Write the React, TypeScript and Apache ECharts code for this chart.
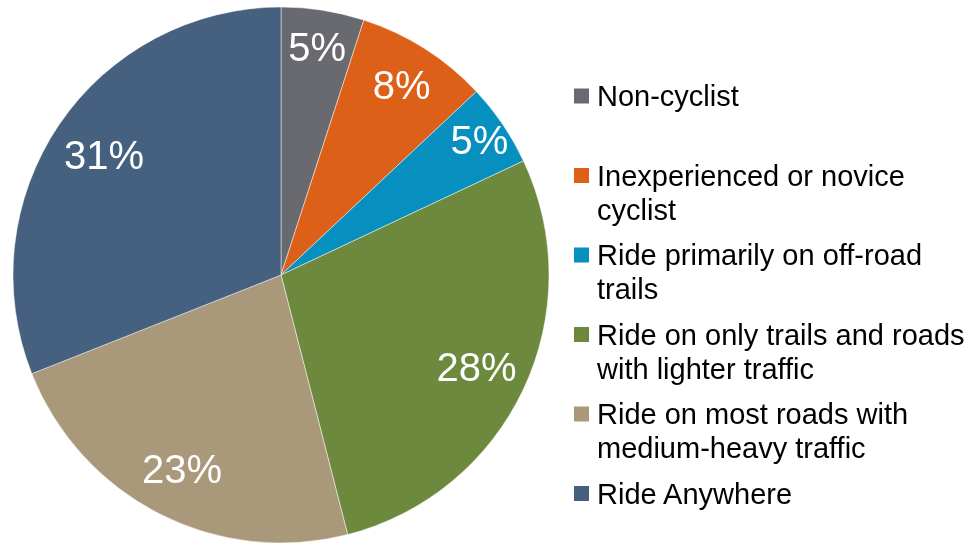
import React, { useEffect, useRef } from "react";
import * as echarts from "echarts";

const categories = [
  "Non-cyclist",
  "Inexperienced or novice cyclist",
  "Ride primarily on off-road trails",
  "Ride on only trails and roads with lighter traffic",
  "Ride on most roads with medium-heavy traffic",
  "Ride Anywhere",
];
const legendLines = [
  ["Non-cyclist", " "],
  ["Inexperienced or novice", "cyclist"],
  ["Ride primarily on off-road", "trails"],
  ["Ride on only trails and roads", "with lighter traffic"],
  ["Ride on most roads with", "medium-heavy traffic"],
  ["Ride Anywhere"],
];
const values = [5, 8, 5, 28, 23, 31];
const colors = ["#696a70", "#dd6019", "#078fc0", "#6d893e", "#aa987a", "#466080"];
// radial distance (px) of each percentage label from the pie centre
const labelRadius = [228, 222, 237, 213, 215, 211];

export default function App() {
  const ref = useRef<HTMLDivElement>(null);
  useEffect(() => {
    if (!ref.current) return;
    const chart = echarts.init(ref.current, undefined, { renderer: "svg" });
    const font = "'Liberation Sans', Arial, sans-serif";
    const cx = 281;
    const cy = 275;
    const R = 268;
    const r0 = 178;
    const baseR = (r0 + R) / 2;
    const total = values.reduce((a, b) => a + b, 0);
    const midAngles: number[] = [];
    let acc = 0;
    values.forEach((v) => {
      midAngles.push(((acc + v / 2) / total) * Math.PI * 2);
      acc += v;
    });
    const rich: any = {
      t: { fontSize: 29, lineHeight: 34, color: "#000", fontFamily: font },
      gap: { width: 8, height: 15 },
      ind: { width: 23, height: 15 },
    };
    colors.forEach((c, i) => {
      rich["sq" + i] = { width: 15, height: 15, backgroundColor: c, verticalAlign: "middle" };
    });
    chart.setOption({
      animation: false,
      legend: {
        orient: "vertical",
        left: 569,
        top: 79,
        padding: 0,
        icon: "none",
        itemWidth: 0,
        itemHeight: 0,
        itemGap: 11.5,
        data: categories,
        textStyle: { fontSize: 29, lineHeight: 34, fontFamily: font, color: "#000", rich },
        formatter: (name: string) => {
          const i = categories.indexOf(name);
          const lines = legendLines[i];
          return lines
            .map((l, k) => (k === 0 ? `{sq${i}|}{gap|}{t|${l}}` : `{ind|}{t|${l}}`))
            .join("\n");
        },
      },
      series: [
        {
          type: "pie",
          center: [cx, cy],
          radius: [0, R],
          startAngle: 90,
          clockwise: true,
          silent: true,
          label: { show: false },
          labelLine: { show: false },
          itemStyle: { borderColor: "rgba(255,255,255,0.6)", borderWidth: 0.8 },
          data: categories.map((n, i) => ({ name: n, value: values[i], itemStyle: { color: colors[i] } })),
        },
        {
          type: "pie",
          center: [cx, cy],
          radius: [r0, R],
          startAngle: 90,
          clockwise: true,
          silent: true,
          itemStyle: { color: "transparent", borderWidth: 0 },
          label: {
            show: true,
            position: "inside",
            formatter: "{c}%",
            color: "#fff",
            fontSize: 40,
            fontFamily: font,
          },
          labelLine: { show: false },
          labelLayout: (params: any) => {
            const i = params.dataIndex;
            const a = midAngles[i];
            const d = labelRadius[i] - baseR;
            return { dx: Math.sin(a) * d, dy: -Math.cos(a) * d };
          },
          data: categories.map((n, i) => ({ name: n, value: values[i] })),
        },
      ],
    });
    return () => chart.dispose();
  }, []);
  return <div ref={ref} style={{ position: "fixed", left: 0, top: 0, width: 973, height: 543 }} />;
}
